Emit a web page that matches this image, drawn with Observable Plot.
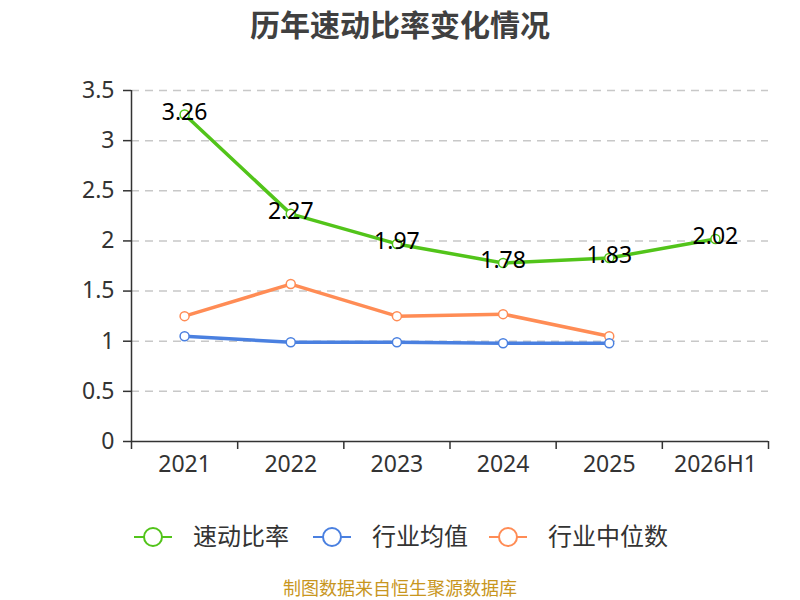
<!DOCTYPE html>
<html><head><meta charset="utf-8">
<script src="https://cdn.jsdelivr.net/npm/d3@7"></script>
<script src="https://cdn.jsdelivr.net/npm/@observablehq/plot@0.6"></script>
<style>
body{margin:0;background:#fff;font-family:"Noto Sans CJK SC","Noto Sans",sans-serif;}
#wrap{position:relative;width:800px;height:600px;overflow:hidden;}
#title{position:absolute;top:2px;left:0;width:800px;text-align:center;font-size:30px;line-height:42px;font-weight:bold;color:#404040;}
#legend{position:absolute;top:514px;left:0;width:800px;height:46px;}
#source{position:absolute;top:576px;left:0;width:800px;text-align:center;font-size:18px;line-height:22px;color:#c8961e;}
#chart{position:absolute;top:0;left:0;}
</style></head>
<body><div id="wrap">
<div id="chart"></div>
<div id="title">历年速动比率变化情况</div>
<div id="legend"></div>
<div id="source">制图数据来自恒生聚源数据库</div>
</div>
<script>
const years = ["2021","2022","2023","2024","2025","2026H1"];
const quickRatio = [3.26, 2.27, 1.97, 1.78, 1.83, 2.02];
const industryMean = [1.05, 0.99, 0.99, 0.98, 0.98];
const industryMedian = [1.25, 1.57, 1.25, 1.27, 1.05];
const yTicks = [0, 0.5, 1, 1.5, 2, 2.5, 3, 3.5];
const seriesNames = ["速动比率", "行业均值", "行业中位数"];
const seriesColors = ["#52c41a", "#4a80e0", "#ff8c55"];

const toRows = (vals) => vals.map((v, i) => ({x: i + 0.5, v}));
const green = toRows(quickRatio), blue = toRows(industryMean), orange = toRows(industryMedian);
const numFont = "'Noto Sans','Open Sans',sans-serif";

const chart = Plot.plot({
  width: 800, height: 600,
  marginTop: 90, marginBottom: 159, marginLeft: 131, marginRight: 32,
  style: {fontSize: "23px", color: "#333", fontFamily: numFont, background: "transparent"},
  x: {domain: [0, years.length], axis: null},
  y: {domain: [0, 3.5], axis: null},
  marks: [
    Plot.ruleY(yTicks.filter(d => d > 0), {stroke: "#c8c8c8", strokeWidth: 1.5, strokeDasharray: "8 6"}),
    Plot.axisY({ticks: yTicks, label: null, tickSize: 8, tickPadding: 9, tickFormat: d => String(d), stroke: "#333", strokeWidth: 1.5, fill: "#333"}),
    Plot.ruleX([0], {stroke: "#333", strokeWidth: 1.5}),
    Plot.ruleY([0], {stroke: "#333", strokeWidth: 1.5}),
    Plot.axisX({ticks: d3.range(years.length + 1), label: null, tickSize: 8, tickFormat: () => "", stroke: "#333", strokeWidth: 1.5}),
    Plot.axisX({ticks: years.map((_, i) => i + 0.5), label: null, tickSize: 0, tickPadding: 14, tickFormat: d => years[Math.floor(d)], fill: "#333"}),
    Plot.line(orange, {x: "x", y: "v", stroke: seriesColors[2], strokeWidth: 3.5}),
    Plot.line(blue, {x: "x", y: "v", stroke: seriesColors[1], strokeWidth: 3.5}),
    Plot.line(green, {x: "x", y: "v", stroke: seriesColors[0], strokeWidth: 3.5}),
    Plot.dot(orange, {x: "x", y: "v", r: 4.5, fill: "#fff", stroke: seriesColors[2], strokeWidth: 1.5}),
    Plot.dot(blue, {x: "x", y: "v", r: 4.5, fill: "#fff", stroke: seriesColors[1], strokeWidth: 1.5}),
    Plot.dot(green, {x: "x", y: "v", r: 4.5, fill: "#fff", stroke: seriesColors[0], strokeWidth: 1.5}),
    Plot.text(green, {x: "x", y: "v", text: d => d.v.toFixed(2), fill: "#000", fontSize: 23, dy: -2})
  ]
});
document.getElementById("chart").appendChild(chart);

// legend
const legendStarts = [134, 313, 489];
const lg = d3.select("#legend").append("svg").attr("width", 800).attr("height", 46).style("overflow", "visible");
seriesNames.forEach((name, i) => {
  const g = lg.append("g").attr("transform", `translate(${legendStarts[i]},23)`);
  g.append("line").attr("x1", 0).attr("x2", 38).attr("y1", 0).attr("y2", 0).attr("stroke", seriesColors[i]).attr("stroke-width", 2);
  g.append("circle").attr("cx", 19).attr("cy", 0).attr("r", 9).attr("fill", "#fff").attr("stroke", seriesColors[i]).attr("stroke-width", 2);
  g.append("text").attr("x", 59).attr("y", 0).attr("dy", "0.35em").attr("font-size", 24).attr("fill", "#333")
    .attr("font-family", "'Noto Sans CJK SC',sans-serif").text(name);
});
</script>
</body></html>
